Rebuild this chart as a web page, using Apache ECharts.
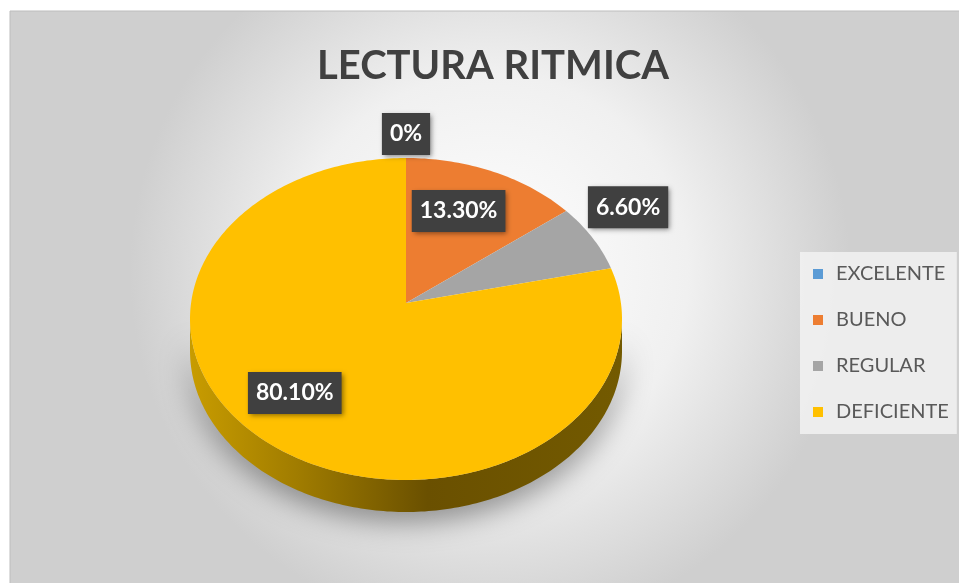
<!DOCTYPE html>
<html>
<head>
<meta charset="utf-8">
<title>Lectura Ritmica</title>
<script src="https://cdn.jsdelivr.net/npm/echarts@6/dist/echarts.min.js"></script>
<style>
    html, body { margin: 0; padding: 0; background: #fff; }
    #main { width: 959px; height: 583px; }
</style>
</head>
<body>
<div id="main"></div>
<script>
// categorías y porcentajes
const categorias = ['EXCELENTE', 'BUENO', 'REGULAR', 'DEFICIENTE']
const porcentajes = [0, 13.3, 6.6, 80.1]
const colores = ['#5B9BD5', '#ED7D31', '#A5A5A5', '#FFC000']

// geometría del pastel en perspectiva
const cx = 406, cyApex = 303, cyEllipse = 319
const rx = 216, ry = 161, depth = 32
// posición relativa de cada etiqueta (factor x, factor y)
const labelFactor = [[1, 1.166], [0.6, 0.694], [1.19, 1.31], [0.88, 0.627]]

const FONT = 'Lato'
const total = porcentajes.reduce((a, b) => a + b, 0)
const startAngles = []
let acc = 0
porcentajes.forEach(v => {
    startAngles.push(acc / total * 360)
    acc += v
})

// punto del borde de la elipse para un ángulo (0 = arriba, sentido horario)
function edge(deg, dy) {
    const a = deg * Math.PI / 180
    return [cx + rx * Math.sin(a), cyEllipse - ry * Math.cos(a) + (dy || 0)]
}

function fmt(v) {
    return v === 0 ? '0%' : v.toFixed(2) + '%'
}

function makeRenderItem(i) {
    return function (params, api) {
        const v = api.value(0)
        const a0 = startAngles[i]
        const a1 = a0 + v / total * 360
        const children = []
        // lateral visible (mitad inferior)
        const s0 = Math.max(a0, 90)
        const s1 = Math.min(a1, 270)
        if (s1 > s0) {
            const pts = []
            for (let d = s0; d < s1; d += 1) pts.push(edge(d))
            pts.push(edge(s1))
            for (let d = s1; d > s0; d -= 1) pts.push(edge(d, depth))
            pts.push(edge(s0, depth))
            children.push({
                type: 'polygon',
                shape: { points: pts },
                style: {
                    fill: new echarts.graphic.LinearGradient(0, 0, 1, 0, [
                        { offset: 0, color: '#c89c00' },
                        { offset: 0.25, color: '#a07c00' },
                        { offset: 0.55, color: '#6a5000' },
                        { offset: 1, color: '#735a00' }
                    ]),
                    shadowColor: 'rgba(0,0,0,0.45)',
                    shadowBlur: 30,
                    shadowOffsetY: 8
                }
            })
        }
        // cara superior
        if (a1 > a0) {
            const pts = [[cx, cyApex]]
            for (let d = a0; d < a1; d += 1) pts.push(edge(d))
            pts.push(edge(a1))
            children.push({
                type: 'polygon',
                shape: { points: pts },
                style: { fill: colores[i] }
            })
        }
        // etiqueta
        const mid = (a0 + a1) / 2 * Math.PI / 180
        const f = labelFactor[i]
        const c = Math.cos(mid)
        children.push({
            type: 'text',
            x: cx + rx * f[0] * Math.sin(mid),
            y: cyApex - (c > 0 ? 145 : 177) * f[1] * c,
            z2: 100,
            style: {
                text: fmt(v),
                fill: '#fff',
                fontFamily: FONT,
                fontWeight: 'bold',
                fontSize: 23,
                align: 'center',
                verticalAlign: 'middle',
                backgroundColor: '#404040',
                padding: [10, 8, 9, 8],
                shadowColor: 'rgba(0,0,0,0.45)',
                shadowBlur: 5,
                shadowOffsetX: 2,
                shadowOffsetY: 2
            }
        })
        return { type: 'group', children: children }
    }
}

const chart = echarts.init(document.getElementById('main'))

const series = categorias.map((name, i) => ({
    name: name,
    type: 'custom',
    coordinateSystem: 'none',
    itemStyle: { color: colores[i] },
    renderItem: makeRenderItem(i),
    data: [[porcentajes[i]]]
}))

chart.setOption({
    animation: false,
    graphic: [{
        type: 'rect',
        z: -10,
        shape: { x: 10, y: 11, width: 960, height: 580 },
        style: {
            fill: new echarts.graphic.RadialGradient(0.5, 0.45, 0.62, [
                { offset: 0, color: '#ffffff' },
                { offset: 0.55, color: '#f0f0f0' },
                { offset: 1, color: '#cfcfcf' }
            ]),
            stroke: '#bdbdbd',
            lineWidth: 1
        }
    }],
    title: {
        text: 'LECTURA RITMICA',
        left: 488,
        top: 41,
        textAlign: 'center',
        textStyle: {
            fontFamily: FONT,
            fontWeight: 'bold',
            fontSize: 40,
            color: '#404040'
        }
    },
    legend: {
        orient: 'vertical',
        left: 800,
        top: 252,
        icon: 'rect',
        itemWidth: 10,
        itemHeight: 10,
        itemGap: 26,
        padding: [12, 8, 12, 13],
        backgroundColor: 'rgba(242,242,242,0.85)',
        data: categorias,
        textStyle: {
            fontFamily: FONT,
            fontSize: 20,
            color: '#595959',
            padding: [0, 0, 0, 8]
        }
    },
    series: series
})
</script>
</body>
</html>
